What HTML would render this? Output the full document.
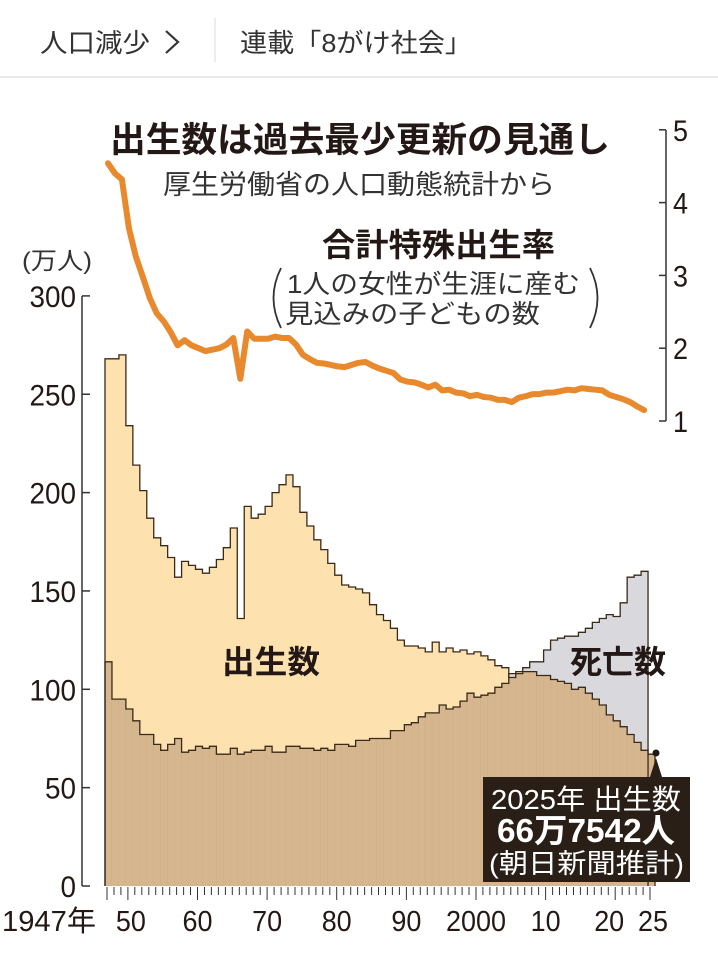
<!DOCTYPE html>
<html><head><meta charset="utf-8"><style>
body{margin:0;background:#fff;width:718px;height:948px;overflow:hidden;font-family:"Liberation Sans","Noto Sans CJK JP",sans-serif}
svg text{font-family:"Liberation Sans","Noto Sans CJK JP",sans-serif}
</style></head><body>
<svg id="s" width="718" height="948" xmlns="http://www.w3.org/2000/svg">
<text x="40" y="52" font-size="26" fill="#333" textLength="110" lengthAdjust="spacingAndGlyphs">人口減少</text>
<path d="M166 31 L178 42 L166 53" fill="none" stroke="#333" stroke-width="2.2"/>
<line x1="215" y1="18" x2="215" y2="62" stroke="#ddd"/>
<text x="240" y="52" font-size="26" fill="#333" textLength="232" lengthAdjust="spacingAndGlyphs">連載「8がけ社会」</text>
<line x1="0" y1="77" x2="718" y2="77" stroke="#e4e4e4" stroke-width="1.5"/>
<g id="g"></g>
<text x="110" y="152" font-size="35" font-weight="bold" fill="#231815" textLength="500" lengthAdjust="spacingAndGlyphs">出生数は過去最少更新の見通し</text>
<text x="163" y="194" font-size="27" fill="#333" textLength="392" lengthAdjust="spacingAndGlyphs">厚生労働省の人口動態統計から</text>
<text x="322" y="256" font-size="32" font-weight="bold" fill="#231815" textLength="233" lengthAdjust="spacingAndGlyphs">合計特殊出生率</text>
<text x="287" y="293" font-size="26" fill="#333" textLength="293" lengthAdjust="spacingAndGlyphs">1人の女性が生涯に産む</text>
<text x="285" y="323" font-size="26" fill="#333" textLength="255" lengthAdjust="spacingAndGlyphs">見込みの子どもの数</text>
<path d="M281 268 Q266 298 281 328" fill="none" stroke="#333" stroke-width="1.8"/>
<path d="M590 268 Q605 298 590 328" fill="none" stroke="#333" stroke-width="1.8"/>
<text x="22" y="269" font-size="24" fill="#333" textLength="70" lengthAdjust="spacingAndGlyphs">(万人)</text>
<text x="222" y="673" font-size="32" font-weight="bold" fill="#231815" textLength="98" lengthAdjust="spacingAndGlyphs">出生数</text>
<text x="570" y="673" font-size="32" font-weight="bold" fill="#231815" textLength="96" lengthAdjust="spacingAndGlyphs">死亡数</text>
<rect x="483" y="777" width="207" height="105" fill="#2a1f16"/>
<path d="M650 777 L656 758 L662 777 Z" fill="#2a1f16"/>
<text x="491" y="809" font-size="28" fill="#fff" textLength="190" lengthAdjust="spacingAndGlyphs">2025年 出生数</text>
<text x="497" y="842" font-size="33" font-weight="bold" fill="#fff" textLength="178" lengthAdjust="spacingAndGlyphs">66万7542人</text>
<text x="489" y="873" font-size="27" fill="#fff" textLength="195" lengthAdjust="spacingAndGlyphs">(朝日新聞推計)</text>
</svg>
<script>
var B=[268,268,270,234,214,201,187,177,173,167,157,165,163,161,159,162,166,172,182,136,193,187,189,193,200,204,209,203,190,183,176,171,164,158,153,152,151,149,143,138,135,131,125,122,122,121,119,124,119,121,119,120,118,119,117,115,112,111,106,109,109,109,107,107,105,104,103,100,101,98,95,92,87,84,81,77,73,69,67];
var D=[114,95,95,90,84,77,77,72,69,72,75,68,69,71,70,71,67,67,70,67,68,69,69,71,68,68,71,71,70,70,69,70,69,72,72,71,74,74,75,75,75,79,79,82,83,86,88,88,92,90,91,94,98,96,97,98,101,103,108,108,111,114,114,120,125,126,127,127,129,131,134,136,138,137,144,157,158,160];
var T=[4.54,4.40,4.32,3.65,3.26,2.98,2.69,2.48,2.37,2.22,2.04,2.11,2.04,2.00,1.96,1.98,2.00,2.05,2.14,1.58,2.23,2.13,2.13,2.13,2.16,2.14,2.14,2.05,1.91,1.85,1.80,1.79,1.77,1.75,1.74,1.77,1.80,1.81,1.76,1.72,1.69,1.66,1.57,1.54,1.53,1.50,1.46,1.50,1.42,1.43,1.39,1.38,1.34,1.36,1.33,1.32,1.29,1.29,1.26,1.32,1.34,1.37,1.37,1.39,1.39,1.41,1.43,1.42,1.45,1.44,1.43,1.42,1.36,1.33,1.30,1.26,1.20,1.15];
var X0=105,W=550/79,Y0=886,K=1.967;
function y(v){return Y0-v*K}
var h='';
for(var i=0;i<79;i++){var x=X0+i*W,b=B[i],d=(i<D.length?D[i]:0),m=Math.min(b,d);
 if(i>=D.length)m=b;
 h+='<rect x="'+x.toFixed(2)+'" y="'+y(m).toFixed(1)+'" width="'+(W+0.3).toFixed(2)+'" height="'+(m*K).toFixed(1)+'" fill="#d6b68e"/>';
 if(b>d&&i<D.length)h+='<rect x="'+x.toFixed(2)+'" y="'+y(b).toFixed(1)+'" width="'+(W+0.3).toFixed(2)+'" height="'+((b-d)*K).toFixed(1)+'" fill="#fde1ae"/>';
 if(d>b)h+='<rect x="'+x.toFixed(2)+'" y="'+y(d).toFixed(1)+'" width="'+(W+0.3).toFixed(2)+'" height="'+((d-b)*K).toFixed(1)+'" fill="#d9d9dd"/>';
 h+='<line x1="'+(x+W).toFixed(2)+'" y1="'+y(m)+'" x2="'+(x+W).toFixed(2)+'" y2="886" stroke="#c9a97f" stroke-width="0.6"/>';
}
function step(a,n){var p='M'+X0+' 886';for(var i=0;i<n;i++){var x=X0+i*W;p+=' L'+x.toFixed(2)+' '+y(a[i]).toFixed(1)+' L'+(x+W).toFixed(2)+' '+y(a[i]).toFixed(1);}p+=' L'+(X0+n*W).toFixed(2)+' 886';return p;}
h+='<path d="'+step(B,79)+'" fill="none" stroke="#3a2a1a" stroke-width="1.3"/>';
h+='<path d="'+step(D,78)+'" fill="none" stroke="#3a2a1a" stroke-width="1.3"/>';
h+='<circle cx="656" cy="'+y(67.6)+'" r="3.5" fill="#231815"/>';
h+='<line x1="82" y1="296" x2="82" y2="886" stroke="#333" stroke-width="1.5"/>';
[0,50,100,150,200,250,300].forEach(function(v){var s=String(v);h+='<line x1="82" y1="'+y(v)+'" x2="90" y2="'+y(v)+'" stroke="#333" stroke-width="1.5"/><text x="76" y="'+(y(v)+11)+'" font-size="30" fill="#231815" text-anchor="end" textLength="'+(s.length*15.5)+'" lengthAdjust="spacingAndGlyphs">'+s+'</text>';});
for(var yr=1947;yr<=2025;yr++){var tx=107+(yr-1947)*W;var big=(yr%10==0||yr==1947||yr==2025);h+='<line x1="'+tx.toFixed(1)+'" y1="887" x2="'+tx.toFixed(1)+'" y2="'+(big?900:895)+'" stroke="#333" stroke-width="1"/>';}
var lb=[[1950,'50'],[1960,'60'],[1970,'70'],[1980,'80'],[1990,'90'],[2000,'2000'],[2010,'10'],[2020,'20'],[2025,'25']];
lb.forEach(function(l){var cx=107+(l[0]-1947)*W;var w=l[1].length*15;if(l[0]==2020)cx-=6;if(l[0]==2025)cx+=3;if(l[0]==1950)cx+=3;h+='<text x="'+cx.toFixed(1)+'" y="931" font-size="29" fill="#231815" text-anchor="middle" textLength="'+w+'" lengthAdjust="spacingAndGlyphs">'+l[1]+'</text>';});
h+='<text x="2" y="931" font-size="29" fill="#231815" textLength="94" lengthAdjust="spacingAndGlyphs">1947年</text>';
h+='<line x1="666" y1="130" x2="666" y2="421" stroke="#333" stroke-width="1.5"/>';
for(var t=1;t<=5;t++){var ty=421-(t-1)*72.8;h+='<line x1="659" y1="'+ty+'" x2="666" y2="'+ty+'" stroke="#333" stroke-width="1.5"/><text x="673" y="'+(ty+11)+'" font-size="30" fill="#231815" textLength="15" lengthAdjust="spacingAndGlyphs">'+t+'</text>';}
var p='';for(var i=0;i<T.length;i++){p+=(i?' L':'M')+(X0+3+i*W).toFixed(1)+' '+(421-(T[i]-1)*72.8).toFixed(1);}
h+='<path d="'+p+'" fill="none" stroke="#e8892e" stroke-width="6" stroke-linejoin="round" stroke-linecap="round"/>';
document.getElementById('g').innerHTML=h;
</script>
</body></html>
